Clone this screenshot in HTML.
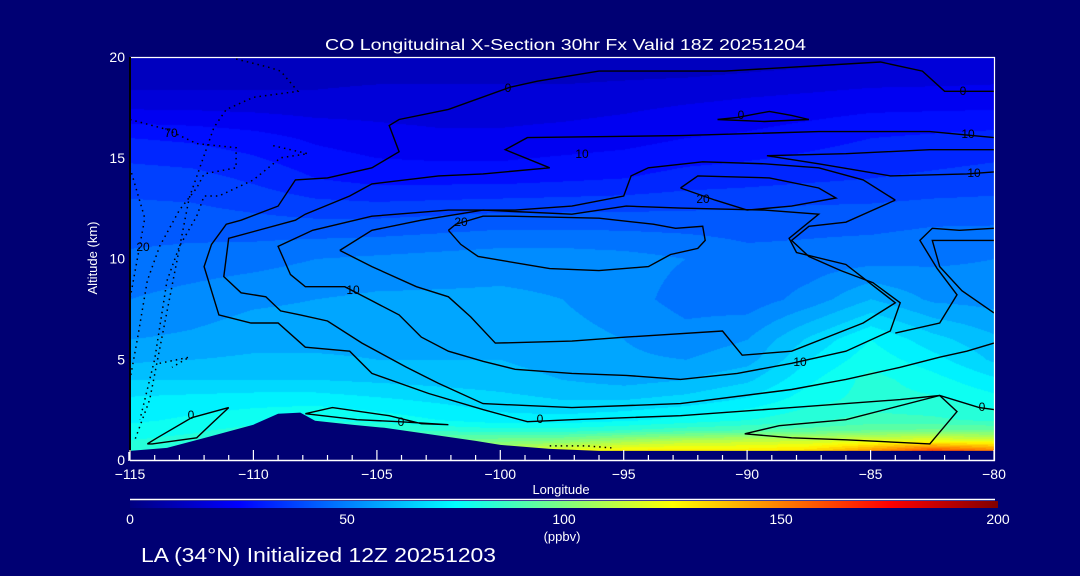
<!DOCTYPE html>
<html><head><meta charset="utf-8">
<style>
html,body{margin:0;padding:0;background:#000073;}
#wrap{position:relative;width:1080px;height:576px;background:#000073;overflow:hidden;font-family:"Liberation Sans",sans-serif;}
#field{position:absolute;left:130px;top:57px;}
#ov{position:absolute;left:0;top:0;}
#cbar{position:absolute;left:130px;top:501px;width:868px;height:7px;background:linear-gradient(to right,#000080 0%,#0000ff 12.5%,#00ffff 37.5%,#ffff00 62.5%,#ff0000 87.5%,#800000 100%);}
</style></head>
<body>
<div id="wrap">
<canvas id="field" width="864" height="403"></canvas>
<div id="cbar"></div>
<svg id="ov" width="1080" height="576">
<g id="terrain"></g>
<g id="contours"></g>
<g id="axes"></g>
<g fill="#000" font-size="12" font-family="Liberation Sans, sans-serif" text-anchor="middle">
<text x="508" y="92">0</text>
<text x="963" y="95">0</text>
<text x="741" y="119">0</text>
<text x="968" y="138">10</text>
<text x="582" y="158">10</text>
<text x="974" y="177">10</text>
<text x="703" y="203">20</text>
<text x="461" y="226">20</text>
<text x="353" y="294">10</text>
<text x="800" y="366">10</text>
<text x="540" y="423">0</text>
<text x="982" y="411">0</text>
<text x="191" y="419">0</text>
<text x="401" y="426">0</text>
<text x="171" y="137">70</text>
<text x="143" y="251">20</text>
</g>
<g fill="#fff" font-family="Liberation Sans, sans-serif">
<text x="325" y="50" font-size="16" textLength="481" lengthAdjust="spacingAndGlyphs">CO Longitudinal X-Section 30hr  Fx Valid 18Z 20251204</text>
<text x="561" y="494" font-size="13" text-anchor="middle">Longitude</text>
<text transform="translate(97,258) rotate(-90)" font-size="13" text-anchor="middle">Altitude (km)</text>
<text x="141" y="562" font-size="20" textLength="355" lengthAdjust="spacingAndGlyphs">LA (34°N) Initialized 12Z 20251203</text>
<text x="562" y="541" font-size="13" text-anchor="middle">(ppbv)</text>
</g>
<g id="cbticks" fill="#fff" font-size="14" font-family="Liberation Sans, sans-serif" text-anchor="middle"></g>
<line x1="130" y1="499.5" x2="995" y2="499.5" stroke="#fff" stroke-width="1.5"/>
</svg>
</div>
<script>
const lons = [-115,-112.5,-110,-107.5,-105,-102.5,-100,-97.5,-95,-92.5,-90,-87.5,-85,-82.5,-80];
const alts = [0,0.5,1,1.5,2,3,4,5,6,8,10,12,14,16,18,20];
const row0   = [84,88,92,96,100,106,116,126,132,134,136,140,155,175,160];
const row05  = [82,86,90,95,100,105,112,120,126,128,128,132,145,160,150];
const row1   = [80,82,86,90,94,96,98,100,106,110,112,114,118,120,118];
const row15  = [77,79,82,86,86,84,82,82,85,88,90,92,95,96,95];
const row2   = [74,76,78,80,78,75,72,72,74,77,80,84,87,86,84];
const row3   = [71,72,73,73,71,69,67,65,65,67,71,78,82,81,77];
const row4   = [65,65,65,65,64,63,62,60,58,60,64,74,82,77,71];
const row5   = [59,60,61,61,60,60,60,58,56,55,58,70,78,72,64];
const row6   = [55,56,58,58,58,58,58,57,55,52,55,66,75,67,61];
const row8   = [50,52,54,55,56,56,56,55,52,48,47,52,60,54,53];
const row10  = [46,47,48,50,51,52,53,53,52,50,47,47,48,49,50];
const row12  = [42,42,41,40,40,41,42,42,42,42,42,43,43,44,44];
const row14  = [38,37,34,30,28,28,28,29,30,32,33,34,35,36,37];
const row16  = [30,29,27,24,22,21,21,22,23,25,26,28,30,31,32];
const row18  = [16,16,16,16,17,17,17,17,18,19,20,21,22,22,22];
const row20  = [11,11,11,11,11,11,11,11,11,11,12,13,14,15,16];
const grid = [row0,row05,row1,row15,row2,row3,row4,row5,row6,row8,row10,row12,row14,row16,row18,row20];

const terrainLon = [-115,-113.5,-111.8,-110,-109,-108.1,-107.5,-106,-104.7,-103,-101,-100,-98,-96,-80];
const terrainAlt = [0.45,0.6,1.15,1.75,2.3,2.35,1.95,1.75,1.6,1.3,0.95,0.75,0.55,0.45,0.45];

const contourZeroOuter = [[-80,18.3],[-82,18.3],[-82.9,19.3],[-84.6,19.75],[-90.9,19.3],[-96,19.3],[-98.5,18.8],[-99.6,18.5],[-102.1,17.4],[-104.1,16.9],[-104.5,16.6],[-104.1,15.3],[-105.2,14.5],[-107,14],[-108.3,13.9],[-109,12.6],[-110.5,11.9],[-111.1,11.7],[-111.7,10.7],[-112,9.6],[-111.4,7.2],[-110.1,6.8],[-109,6.8],[-107.9,5.6],[-106.1,5.4],[-105.2,4.3],[-102.9,3.3],[-100.7,2.5],[-98.9,1.9],[-97.1,2],[-94.9,2.1],[-92.7,2.2],[-88.2,2.6],[-83.8,3],[-82.2,3.2],[-80.6,2.6],[-80,2.5]];
const contourTenA = [[-80,16],[-82.6,16.3],[-87.1,16.3],[-92.7,16.1],[-98.9,16],[-99.8,15.4],[-98,14.5],[-100.7,14.2],[-102.5,14.1],[-105.2,13.7],[-106.1,13.1],[-107.9,12.2],[-108.3,11.9],[-111,11],[-111.2,9.1],[-110.5,8.3],[-109.5,8.1],[-108.9,7.4],[-108.1,7.2],[-107,6.9],[-105.6,5.8],[-103.8,4.6],[-102.5,3.8],[-100.7,2.8],[-97.1,2.6],[-92.7,2.8],[-88.2,3.5],[-86,4],[-83.8,4.6],[-82.2,5.1],[-81.1,5.4],[-80,5.8]];
const contourRing3 = [[-84,12.9],[-85.3,13.9],[-87.1,14.5],[-89.3,14.7],[-91.8,14.8],[-94,14.5],[-94.7,14.1],[-95,13.1],[-97.1,12.6],[-99.4,12.4],[-102.1,12.4],[-105.2,12.1],[-107.6,11.4],[-109,10.6],[-108.5,9.2],[-107.9,8.6],[-106.3,8.6],[-105.2,7.9],[-104.1,7.2],[-103.2,6.1],[-102.1,5.4],[-100.7,4.9],[-99.4,4.5],[-97.1,4.3],[-94.9,4.2],[-92.7,4],[-90.4,4.3],[-88.2,4.8],[-86,5.4],[-84.2,6.4],[-83.8,7.8],[-84.9,8.8],[-86.2,9.4],[-87.5,10.1],[-88.2,10.9],[-87.5,11.6],[-86,11.8],[-84,12.9]];
const contourRing4 = [[-106.5,10.4],[-105.2,9.6],[-103.4,8.6],[-102.1,8.1],[-101.2,7.1],[-100.2,5.8],[-97.1,5.9],[-94.9,6.1],[-91,6.4],[-90.2,5.2],[-88.2,5.4],[-85.3,6.8],[-84,7.8],[-86,9.7],[-88,10.3],[-88.3,11],[-87.1,12.2],[-89.3,12.4],[-92.7,12.5],[-94.9,12.6],[-97.1,12.2],[-100.7,12.4],[-103.2,11.9],[-105.2,11.4],[-106.5,10.4]];
const contourTwentyA = [[-102.1,11.4],[-101.6,10.7],[-100.9,10.1],[-98,9.5],[-96,9.4],[-94,9.6],[-93.1,10.2],[-92,10.5],[-91.7,10.9],[-91.8,11.6],[-92.9,11.5],[-93.8,11.7],[-96,12],[-99.6,12.1],[-100.7,12.1],[-101.8,11.7],[-102.1,11.4]];
const contourTwentyB = [[-92.7,13.5],[-92,14.1],[-89.1,14],[-87.1,13.5],[-86.4,13],[-88.2,12.6],[-90,12.4],[-91.3,12.9],[-92.7,13.5]];
const contourTenTongue = [[-80,14.3],[-81.1,14.2],[-84.2,14.1],[-87.1,14.7],[-89.2,15.1],[-86,15.2],[-82.6,15.4],[-80,15.4]];
const contourTenRight = [[-80,10.9],[-82.5,10.9],[-82.2,9.6],[-81.3,8.4],[-80,7.3]];
const contourTenRight2 = [[-80,11.5],[-81.4,11.4],[-82.5,11.5],[-83,10.9],[-82.3,9.5],[-81.5,8.2],[-82.2,6.8],[-84,6.3]];
const contourZeroSmall = [[-91.2,16.9],[-90.4,17],[-89.1,17.3],[-88.2,17.1],[-87.5,16.9],[-89.3,16.8],[-91.2,16.9]];
const contourZeroSurface = [[-90.1,1.3],[-88.7,1.7],[-86,2],[-82.2,3.2],[-81.5,2.4],[-82.6,0.8],[-86,1],[-88.2,1.1],[-90.1,1.3]];
const contourZeroLeft = [[-114.3,0.8],[-113.9,1.1],[-112.5,2.1],[-111,2.6],[-111.7,1.8],[-112.3,1.1],[-114.1,0.8],[-114.3,0.8]];
const contourZeroBump = [[-107.9,2.3],[-106.8,2.6],[-104.5,2.2],[-103.2,1.8],[-102.1,1.75],[-104.1,1.9],[-105.8,2],[-107.9,2.3]];
const dottedA = [[-110.7,19.9],[-109.4,19.5],[-108.9,19.3],[-108.2,18.3],[-110,18],[-111.1,17.4],[-111.6,16.5],[-112.6,13],[-113.4,8],[-114.2,3],[-114.8,1]];
const dottedB = [[-115,16.9],[-113.5,16.4],[-112.3,15.7],[-110.7,15.5],[-110.7,14.5],[-112,14.2],[-112.3,13.5],[-113,12.4],[-113.8,10.6],[-114.3,8.9],[-114.7,6],[-115,4]];
const dottedC = [[-109.2,15.6],[-107.8,15.2],[-108.9,15],[-110,13.9],[-111.4,13.1],[-112,13.1],[-112.3,12.1],[-113,10.6],[-113.5,8.9],[-114,5],[-114.6,2]];
const dottedD = [[-115,14.5],[-114.4,12],[-114.7,10],[-115,8]];
const dottedE = [[-113.8,4.8],[-112.6,5.1],[-113.3,4.6]];
const dottedF = [[-98,0.7],[-96.5,0.7],[-95.5,0.6]];

const solidContours = [contourZeroOuter,contourTenA,contourRing3,contourRing4,contourTwentyA,contourTwentyB,contourTenTongue,contourTenRight,contourTenRight2,contourZeroSmall,contourZeroSurface,contourZeroLeft,contourZeroBump];
const dottedContours = [dottedA,dottedB,dottedC,dottedD,dottedE,dottedF];

const xTickVals = [-115,-110,-105,-100,-95,-90,-85,-80];
const xTickLabels = ["\u2212115","\u2212110","\u2212105","\u2212100","\u221295","\u221290","\u221285","\u221280"];
const yTickVals = [0,5,10,15,20];
const yTickLabels = ["0","5","10","15","20"];
const cbTickVals = [0,50,100,150,200];
const cbTickLabels = ["0","50","100","150","200"];

const PX0=130, PY0=57, PW=864, PH=403;
function xS(lon){return PX0 + (lon+115)/35*PW;}
function yS(alt){return PY0 + (20-alt)/20*PH;}
function cbX(v){return 130 + v/200*868;}

function jet(t){
  const c=v=>Math.max(0,Math.min(1,v));
  return [c(1.5-Math.abs(4*t-3))*255, c(1.5-Math.abs(4*t-2))*255, c(1.5-Math.abs(4*t-1))*255];
}
function interp(arr, v){
  if(v<=arr[0]) return [0,0];
  for(let i=0;i<arr.length-1;i++){ if(v<=arr[i+1]) return [i,(v-arr[i])/(arr[i+1]-arr[i])]; }
  return [arr.length-2,1];
}
const cv=document.getElementById('field'); const ctx=cv.getContext('2d');
const img=ctx.createImageData(PW,PH);
for(let py=0;py<PH;py++){
  const alt=20-py/PH*20; const [ai,af]=interp(alts,alt);
  for(let px=0;px<PW;px++){
    const lon=-115+px/PW*35; const [li,lf]=interp(lons,lon);
    const v=(grid[ai][li]*(1-lf)+grid[ai][li+1]*lf)*(1-af)+(grid[ai+1][li]*(1-lf)+grid[ai+1][li+1]*lf)*af;
    const q=(Math.floor(v/5)+0.5)*5;
    const col=jet(q/200); const k=(py*PW+px)*4;
    img.data[k]=col[0];img.data[k+1]=col[1];img.data[k+2]=col[2];img.data[k+3]=255;
  }
}
ctx.putImageData(img,0,0);

const NS='http://www.w3.org/2000/svg';
let tp='M'+xS(terrainLon[0])+','+(PY0+PH+5);
for(let i=0;i<terrainLon.length;i++) tp+=' L'+xS(terrainLon[i]).toFixed(1)+','+yS(terrainAlt[i]).toFixed(1);
tp+=' L'+xS(terrainLon[terrainLon.length-1])+','+(PY0+PH+5)+' Z';
const tpath=document.createElementNS(NS,'path');
tpath.setAttribute('d',tp); tpath.setAttribute('fill','#000073');


document.getElementById('terrain').appendChild(tpath);

function pathOf(pts){return pts.map((p,i)=>(i?'L':'M')+xS(p[0]).toFixed(1)+','+yS(p[1]).toFixed(1)).join(' ');}
const cg=document.getElementById('contours');
solidContours.forEach(pts=>{
  const p=document.createElementNS(NS,'path');
  p.setAttribute('d',pathOf(pts)); p.setAttribute('fill','none'); p.setAttribute('stroke','#000'); p.setAttribute('stroke-width','1.4');
  
  
  cg.appendChild(p);
});
dottedContours.forEach(pts=>{
  const p=document.createElementNS(NS,'path');
  p.setAttribute('d',pathOf(pts)); p.setAttribute('fill','none'); p.setAttribute('stroke','#000'); p.setAttribute('stroke-width','1.5'); p.setAttribute('stroke-dasharray','1.5 4');
  
  
  cg.appendChild(p);
});

const ag=document.getElementById('axes');
function line(x1,y1,x2,y2,c,w,name){
  const l=document.createElementNS(NS,'line');
  l.setAttribute('x1',x1);l.setAttribute('y1',y1);l.setAttribute('x2',x2);l.setAttribute('y2',y2);
  l.setAttribute('stroke',c);l.setAttribute('stroke-width',w);
  
  
  ag.appendChild(l);
}
function txt(x,y,s,size,anchor,parent,name){
  const t=document.createElementNS(NS,'text');
  t.setAttribute('x',x);t.setAttribute('y',y);t.setAttribute('fill','#fff');t.setAttribute('font-size',size);
  t.setAttribute('text-anchor',anchor);t.textContent=s;
  
  
  parent.appendChild(t);
}
line(130,57.5,995,57.5,'#fff',1.2,'top-axis-line');
line(994.5,57,994.5,461,'#fff',1.2,'right-axis-line');
line(130,460.5,995,460.5,'#fff',1.5,'x-axis-line');
line(130,57,130,452,'#000',2,'y-axis-line');
line(129,452,129,461,'#fff',1.5,'y-axis-line-base');
for(let lon=-115;lon<=-80;lon++){
  const major=(lon%5===0);
  line(xS(lon).toFixed(1),460,xS(lon).toFixed(1),major?450:455,'#fff',1.2,'x-tick');
}
xTickVals.forEach((v,i)=>txt(xS(v),479,xTickLabels[i],14,'middle',ag,'x-tick-label'));
yTickVals.forEach((v,i)=>txt(125,yS(v)+5,yTickLabels[i],14,'end',ag,'y-tick-label'));
const cbg=document.getElementById('cbticks');
cbTickVals.forEach((v,i)=>txt(cbX(v),524,cbTickLabels[i],14,'middle',cbg,'colorbar-tick-label'));
</script>
</body></html>
